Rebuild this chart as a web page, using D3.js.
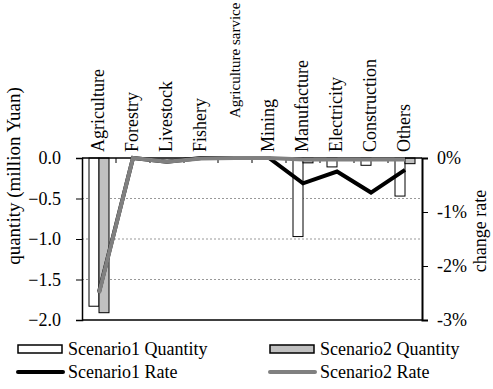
<!DOCTYPE html>
<html>
<head>
<meta charset="utf-8">
<script src="https://cdn.jsdelivr.net/npm/d3@7"></script>
<style>
  body { margin: 0; background: #fff; }
  svg { display: block; }
  svg text { font-family: "Liberation Serif", "Times New Roman", Times, "DejaVu Serif", serif; }
</style>
</head>
<body>
<svg id="chart" width="493" height="389"></svg>
<script>
const categories = ["Agriculture", "Forestry", "Livestock", "Fishery", "Agriculture sarvice",
  "Mining", "Manufacture", "Electricity", "Construction", "Others"];
const s1Quantity = [-1.83, 0, 0, 0, 0, 0, -0.97, -0.11, -0.09, -0.47];
const s2Quantity = [-1.91, 0, 0, 0, 0, 0, -0.06, 0, 0, -0.07];
const s1Rate = [-2.48, 0, -0.07, 0, 0, 0, -0.47, -0.25, -0.64, -0.22];
const s2Rate = [-2.5, 0, -0.07, -0.01, 0, 0, -0.03, -0.03, -0.03, -0.03];
const leftTicks = [0, -0.5, -1.0, -1.5, -2.0];
const rightTicks = [0, -1, -2, -3];
const seriesNames = ["Scenario1 Quantity", "Scenario2 Quantity", "Scenario1 Rate", "Scenario2 Rate"];

const FF = "'Liberation Serif', 'Times New Roman', Times, 'DejaVu Serif', serif";
const svg = d3.select("#chart");
const L = 82, R = 422, T = 158, B = 320;
const FS = 18;

const x = d3.scaleBand().domain(categories).range([L, R]).paddingInner(0).paddingOuter(0);
const yL = d3.scaleLinear().domain([-2, 0]).range([B, T]);
const yR = d3.scaleLinear().domain([-3, 0]).range([B, T]);
const barW = 10;

// gridlines
svg.append("g").selectAll("line").data([-0.5, -1.0, -1.5]).join("line")
  .attr("x1", L).attr("x2", R).attr("y1", d => yL(d)).attr("y2", d => yL(d))
  .attr("stroke", "#999").attr("stroke-width", 1).attr("stroke-dasharray", "2,2");

// bars
const bars = svg.append("g");
bars.selectAll("rect.s1").data(categories).join("rect")
  .attr("x", d => x(d) + x.bandwidth() / 2 - barW)
  .attr("y", yL(0))
  .attr("width", barW)
  .attr("height", (d, i) => yL(s1Quantity[i]) - yL(0))
  .attr("fill", "#fff").attr("stroke", (d, i) => s1Quantity[i] === 0 ? "none" : "#000").attr("stroke-width", 1);
bars.selectAll("rect.s2").data(categories).join("rect")
  .attr("x", d => x(d) + x.bandwidth() / 2)
  .attr("y", yL(0))
  .attr("width", barW)
  .attr("height", (d, i) => yL(s2Quantity[i]) - yL(0))
  .attr("fill", "#c0c0c0").attr("stroke", (d, i) => s2Quantity[i] === 0 ? "none" : "#000").attr("stroke-width", 1);

// category axis at zero (top)
svg.append("line").attr("x1", L).attr("x2", R).attr("y1", yL(0)).attr("y2", yL(0))
  .attr("stroke", "#000").attr("stroke-width", 1.5);
svg.append("g").selectAll("line").data(categories.slice(1)).join("line")
  .attr("x1", d => x(d)).attr("x2", d => x(d))
  .attr("y1", yL(0)).attr("y2", yL(0) + 5)
  .attr("stroke", "#000").attr("stroke-width", 1);

// rate lines
const lineGen = arr => d3.line().x((d, i) => x(categories[i]) + x.bandwidth() / 2).y(d => yR(d))(arr);
svg.append("path").attr("d", lineGen(s1Rate)).attr("fill", "none")
  .attr("stroke", "#000").attr("stroke-width", 4).attr("stroke-linejoin", "miter");
svg.append("path").attr("d", lineGen(s2Rate)).attr("fill", "none")
  .attr("stroke", "#808080").attr("stroke-width", 4).attr("stroke-linejoin", "miter");

// bottom frame line
svg.append("line").attr("x1", L).attr("x2", R).attr("y1", B).attr("y2", B)
  .attr("stroke", "#000").attr("stroke-width", 1.5);

// left axis
const axL = svg.append("g").attr("transform", `translate(${L},0)`)
  .call(d3.axisLeft(yL).tickValues(leftTicks).tickFormat(d3.format(".1f")).tickSize(6).tickPadding(15));
axL.attr("font-family", FF).attr("font-size", FS);
axL.select(".domain").attr("stroke-width", 1.5);
axL.selectAll("text").attr("font-size", FS).attr("font-family", FF).attr("fill", "#000");
axL.selectAll("line").attr("stroke", "#000");

// right axis
const axR = svg.append("g").attr("transform", `translate(${R},0)`)
  .call(d3.axisRight(yR).tickValues(rightTicks).tickFormat(d => d + "%").tickSize(6).tickPadding(9));
axR.attr("font-family", FF).attr("font-size", FS);
axR.select(".domain").attr("stroke-width", 2);
axR.selectAll("text").attr("font-size", FS).attr("font-family", FF).attr("fill", "#000");

// axis titles
svg.append("text").attr("transform", "translate(20,176) rotate(-90)")
  .attr("text-anchor", "middle").attr("font-family", FF).attr("font-size", 19).text("quantity (million Yuan)");
svg.append("text").attr("transform", "translate(486,231) rotate(-90)")
  .attr("text-anchor", "middle").attr("font-family", FF).attr("font-size", FS).text("change rate");

// category labels (the long label is set smaller so it fits above the chart)
svg.append("g").selectAll("text").data(categories).join("text")
  .attr("transform", d => {
    const endY = d === "Agriculture sarvice" ? 118 : 152;
    return `translate(${x(d) + x.bandwidth() / 2 + 5},${endY}) rotate(-90)`;
  })
  .attr("text-anchor", "start").attr("font-family", FF)
  .attr("font-size", d => d === "Agriculture sarvice" ? 15 : FS)
  .text(d => d);

// legend
const leg = svg.append("g");
const legItems = [
  { name: seriesNames[0], type: "rect", fill: "#fff", x: 18, y: 349 },
  { name: seriesNames[1], type: "rect", fill: "#c0c0c0", x: 270, y: 349 },
  { name: seriesNames[2], type: "line", stroke: "#000", x: 18, y: 372 },
  { name: seriesNames[3], type: "line", stroke: "#808080", x: 270, y: 372 }
];
legItems.forEach(it => {
  if (it.type === "rect") {
    leg.append("rect").attr("x", it.x).attr("y", it.y - 4).attr("width", 44).attr("height", 8)
      .attr("fill", it.fill).attr("stroke", "#000").attr("stroke-width", 1.5);
  } else {
    leg.append("line").attr("x1", it.x).attr("x2", it.x + 45).attr("y1", it.y).attr("y2", it.y)
      .attr("stroke", it.stroke).attr("stroke-width", 4).attr("stroke-linecap", "round");
  }
  leg.append("text").attr("x", it.x + 50).attr("y", it.y + 6).attr("font-family", FF).attr("font-size", FS).text(it.name);
});
</script>
</body>
</html>
